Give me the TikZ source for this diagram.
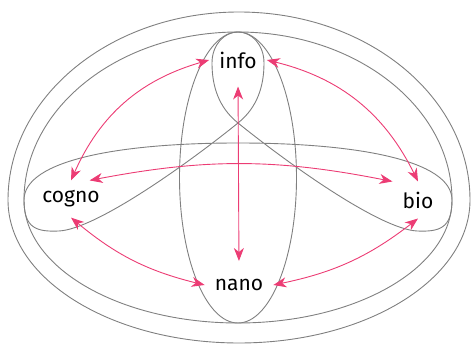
\documentclass[tikz,border=0pt]{standalone}
\usepackage{fontspec}
\setmainfont{Fira Sans}
\usetikzlibrary{arrows.meta}
\definecolor{linkpink}{RGB}{236,60,116}
\definecolor{shellgray}{RGB}{128,128,128}

\begin{document}
\begin{tikzpicture}[x=1pt,y=-1pt,
    shell/.style={draw=shellgray,line width=0.9pt},
    field/.style={font=\fontsize{21}{25}\selectfont,inner sep=10pt},
    link/.style={linkpink,line width=0.9pt,
      {Stealth[length=13pt,width=10pt,inset=4pt]}-{Stealth[length=13pt,width=10pt,inset=4pt]}}]
  \useasboundingbox (0,0) rectangle (472,344);

  % outer shells
  \draw[shell] (470,200) arc[start angle=0,end angle=-180,x radius=231,y radius=188]
    arc[start angle=180,end angle=0,x radius=231,y radius=143];
  \draw[shell] (452,200) arc[start angle=0,end angle=-180,x radius=214,y radius=168]
    arc[start angle=180,end angle=0,x radius=214,y radius=123];

  % info--nano
  \draw[shell] (238,177.5) ellipse[x radius=58.5,y radius=145.5];

  % cogno--bio band with the loop round info
  \draw[shell] (24,200) .. controls (24,160) and (120,143) .. (238,143)
    .. controls (356,143) and (452,160) .. (452,200)
    .. controls (452,228) and (440,232) .. (417,231)
    .. controls (380,229) and (290,165) .. (238,123)
    .. controls (218,107) and (212,85) .. (212,63)
    .. controls (212,45) and (224,32) .. (238,32)
    .. controls (252,32) and (264,45) .. (264,63)
    .. controls (264,85) and (258,107) .. (238,123)
    .. controls (186,165) and (96,229) .. (59,231)
    .. controls (36,232) and (24,228) .. (24,200) -- cycle;

  % fields
  \node[field] (info) at (238,60) {info};
  \node[field] (cogno) at (71,199) {cogno};
  \node[field] (bio) at (418,200) {bio};
  \node[field] (nano) at (239,285) {nano};

  % links
  \draw[link] (info.west) to[bend right=25] (cogno.north);
  \draw[link] (info.east) to[bend left=25] (bio.north);
  \draw[link] (cogno.45) to[bend left=11] (bio.north west);
  \draw[link,shorten <=8pt,shorten >=8pt] (info.south) -- (nano.north);
  \draw[link] (cogno.south) to[bend right=13] (nano.west);
  \draw[link] (bio.south) to[bend left=13] (nano.east);
\end{tikzpicture}
\end{document}
